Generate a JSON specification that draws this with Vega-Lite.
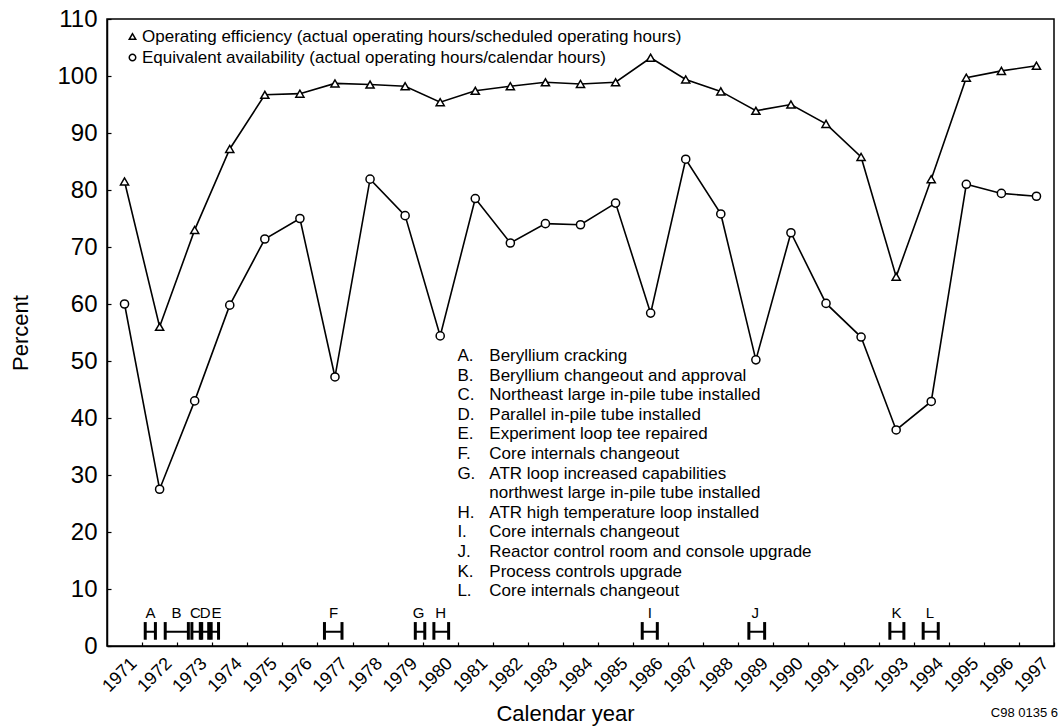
{
  "$schema": "https://vega.github.io/schema/vega-lite/v6.json",
  "width": 947,
  "height": 627,
  "autosize": "none",
  "padding": {"left": 107, "top": 19, "right": 4, "bottom": 81},
  "background": "white",
  "config": {
    "font": "Liberation Sans",
    "view": {"stroke": "black", "strokeWidth": 1.5},
    "axis": {"grid": false, "domainColor": "black", "domainWidth": 1.5, "tickColor": "black", "tickWidth": 1.2, "labelColor": "black", "titleColor": "black", "titleFontWeight": "normal", "tickSize": -4},
    "axisX": {"labelAngle": -45, "labelAlign": "right", "labelBaseline": "bottom", "labelFontSize": 18, "labelPadding": 25, "labelOffset": -2, "labelFlush": false, "labelBound": false, "titleFontSize": 22, "titlePadding": 8},
    "axisY": {"labelFontSize": 24, "labelPadding": 14, "titleFontSize": 22, "titlePadding": 24}
  },
  "datasets": {
    "series": [
      {"year": 1971, "series": "Operating efficiency (actual operating hours/scheduled operating hours)", "value": 81.5},
      {"year": 1972, "series": "Operating efficiency (actual operating hours/scheduled operating hours)", "value": 56.0},
      {"year": 1973, "series": "Operating efficiency (actual operating hours/scheduled operating hours)", "value": 73.0},
      {"year": 1974, "series": "Operating efficiency (actual operating hours/scheduled operating hours)", "value": 87.2},
      {"year": 1975, "series": "Operating efficiency (actual operating hours/scheduled operating hours)", "value": 96.7},
      {"year": 1976, "series": "Operating efficiency (actual operating hours/scheduled operating hours)", "value": 96.9},
      {"year": 1977, "series": "Operating efficiency (actual operating hours/scheduled operating hours)", "value": 98.7},
      {"year": 1978, "series": "Operating efficiency (actual operating hours/scheduled operating hours)", "value": 98.5},
      {"year": 1979, "series": "Operating efficiency (actual operating hours/scheduled operating hours)", "value": 98.2},
      {"year": 1980, "series": "Operating efficiency (actual operating hours/scheduled operating hours)", "value": 95.4},
      {"year": 1981, "series": "Operating efficiency (actual operating hours/scheduled operating hours)", "value": 97.4},
      {"year": 1982, "series": "Operating efficiency (actual operating hours/scheduled operating hours)", "value": 98.2},
      {"year": 1983, "series": "Operating efficiency (actual operating hours/scheduled operating hours)", "value": 98.9},
      {"year": 1984, "series": "Operating efficiency (actual operating hours/scheduled operating hours)", "value": 98.6},
      {"year": 1985, "series": "Operating efficiency (actual operating hours/scheduled operating hours)", "value": 98.9},
      {"year": 1986, "series": "Operating efficiency (actual operating hours/scheduled operating hours)", "value": 103.2},
      {"year": 1987, "series": "Operating efficiency (actual operating hours/scheduled operating hours)", "value": 99.4},
      {"year": 1988, "series": "Operating efficiency (actual operating hours/scheduled operating hours)", "value": 97.3},
      {"year": 1989, "series": "Operating efficiency (actual operating hours/scheduled operating hours)", "value": 93.9},
      {"year": 1990, "series": "Operating efficiency (actual operating hours/scheduled operating hours)", "value": 95.0},
      {"year": 1991, "series": "Operating efficiency (actual operating hours/scheduled operating hours)", "value": 91.6},
      {"year": 1992, "series": "Operating efficiency (actual operating hours/scheduled operating hours)", "value": 85.8},
      {"year": 1993, "series": "Operating efficiency (actual operating hours/scheduled operating hours)", "value": 64.8},
      {"year": 1994, "series": "Operating efficiency (actual operating hours/scheduled operating hours)", "value": 81.9},
      {"year": 1995, "series": "Operating efficiency (actual operating hours/scheduled operating hours)", "value": 99.7},
      {"year": 1996, "series": "Operating efficiency (actual operating hours/scheduled operating hours)", "value": 100.9},
      {"year": 1997, "series": "Operating efficiency (actual operating hours/scheduled operating hours)", "value": 101.8},
      {"year": 1971, "series": "Equivalent availability (actual operating hours/calendar hours)", "value": 60.0},
      {"year": 1972, "series": "Equivalent availability (actual operating hours/calendar hours)", "value": 27.5},
      {"year": 1973, "series": "Equivalent availability (actual operating hours/calendar hours)", "value": 43.0},
      {"year": 1974, "series": "Equivalent availability (actual operating hours/calendar hours)", "value": 59.8},
      {"year": 1975, "series": "Equivalent availability (actual operating hours/calendar hours)", "value": 71.4},
      {"year": 1976, "series": "Equivalent availability (actual operating hours/calendar hours)", "value": 75.0},
      {"year": 1977, "series": "Equivalent availability (actual operating hours/calendar hours)", "value": 47.2},
      {"year": 1978, "series": "Equivalent availability (actual operating hours/calendar hours)", "value": 81.9},
      {"year": 1979, "series": "Equivalent availability (actual operating hours/calendar hours)", "value": 75.5},
      {"year": 1980, "series": "Equivalent availability (actual operating hours/calendar hours)", "value": 54.4},
      {"year": 1981, "series": "Equivalent availability (actual operating hours/calendar hours)", "value": 78.5},
      {"year": 1982, "series": "Equivalent availability (actual operating hours/calendar hours)", "value": 70.7},
      {"year": 1983, "series": "Equivalent availability (actual operating hours/calendar hours)", "value": 74.1},
      {"year": 1984, "series": "Equivalent availability (actual operating hours/calendar hours)", "value": 73.9},
      {"year": 1985, "series": "Equivalent availability (actual operating hours/calendar hours)", "value": 77.7},
      {"year": 1986, "series": "Equivalent availability (actual operating hours/calendar hours)", "value": 58.4},
      {"year": 1987, "series": "Equivalent availability (actual operating hours/calendar hours)", "value": 85.4},
      {"year": 1988, "series": "Equivalent availability (actual operating hours/calendar hours)", "value": 75.8},
      {"year": 1989, "series": "Equivalent availability (actual operating hours/calendar hours)", "value": 50.2},
      {"year": 1990, "series": "Equivalent availability (actual operating hours/calendar hours)", "value": 72.5},
      {"year": 1991, "series": "Equivalent availability (actual operating hours/calendar hours)", "value": 60.1},
      {"year": 1992, "series": "Equivalent availability (actual operating hours/calendar hours)", "value": 54.2},
      {"year": 1993, "series": "Equivalent availability (actual operating hours/calendar hours)", "value": 37.9},
      {"year": 1994, "series": "Equivalent availability (actual operating hours/calendar hours)", "value": 42.9},
      {"year": 1995, "series": "Equivalent availability (actual operating hours/calendar hours)", "value": 81.0},
      {"year": 1996, "series": "Equivalent availability (actual operating hours/calendar hours)", "value": 79.4},
      {"year": 1997, "series": "Equivalent availability (actual operating hours/calendar hours)", "value": 78.9}
    ],
    "events": [
      {"code": "A", "start": 1971.59, "end": 1971.88, "labelYear": 1971.74},
      {"code": "B", "start": 1972.16, "end": 1972.82, "labelYear": 1972.48},
      {"code": "C", "start": 1972.92, "end": 1973.16, "labelYear": 1973.02},
      {"code": "D", "start": 1973.20, "end": 1973.40, "labelYear": 1973.30},
      {"code": "E", "start": 1973.47, "end": 1973.68, "labelYear": 1973.62},
      {"code": "F", "start": 1976.70, "end": 1977.20, "labelYear": 1976.96},
      {"code": "G", "start": 1979.29, "end": 1979.56, "labelYear": 1979.38},
      {"code": "H", "start": 1979.82, "end": 1980.24, "labelYear": 1980.01},
      {"code": "I", "start": 1985.76, "end": 1986.19, "labelYear": 1985.98},
      {"code": "J", "start": 1988.80, "end": 1989.25, "labelYear": 1988.98},
      {"code": "K", "start": 1992.82, "end": 1993.22, "labelYear": 1993.01},
      {"code": "L", "start": 1993.77, "end": 1994.20, "labelYear": 1993.96}
    ]
  },
  "layer": [
    {
      "data": {"name": "series"},
      "mark": {"type": "line", "color": "black", "strokeWidth": 1.6},
      "encoding": {
        "x": {"field": "year", "type": "quantitative", "scale": {"domain": [1970.5, 1997.5], "nice": false, "zero": false},
          "axis": {"title": "Calendar year", "values": [1971.5, 1972.5, 1973.5, 1974.5, 1975.5, 1976.5, 1977.5, 1978.5, 1979.5, 1980.5, 1981.5, 1982.5, 1983.5, 1984.5, 1985.5, 1986.5, 1987.5, 1988.5, 1989.5, 1990.5, 1991.5, 1992.5, 1993.5, 1994.5, 1995.5, 1996.5, 1997.5],
            "tickCount": 60, "labelExpr": "format(floor(datum.value), 'd')", "labelOverlap": false, "titleX": 458, "titleAlign": "center"}},
        "y": {"field": "value", "type": "quantitative", "scale": {"domain": [0, 110], "nice": false},
          "axis": {"title": "Percent", "values": [0, 10, 20, 30, 40, 50, 60, 70, 80, 90, 100, 110], "tickCount": 30, "labelOverlap": false}},
        "detail": {"field": "series", "type": "nominal"}
      }
    },
    {
      "data": {"name": "series"},
      "mark": {"type": "point", "filled": true, "fill": "white", "stroke": "black", "strokeWidth": 1.5, "size": 66, "opacity": 1},
      "encoding": {
        "x": {"field": "year", "type": "quantitative", "axis": {"labelOverlap": false}},
        "y": {"field": "value", "type": "quantitative", "axis": {"labelOverlap": false}},
        "shape": {"field": "series", "type": "nominal",
          "scale": {"domain": ["Operating efficiency (actual operating hours/scheduled operating hours)", "Equivalent availability (actual operating hours/calendar hours)"], "range": ["triangle-up", "circle"]},
          "legend": {"title": null, "orient": "none", "legendX": 17, "legendY": 9, "labelFontSize": 17, "labelColor": "black", "labelLimit": 1000, "labelOffset": 1, "rowPadding": 3, "symbolSize": 42, "padding": 0,
            "encode": {"symbols": {"update": {"stroke": {"value": "black"}, "fill": {"value": "white"}, "strokeWidth": {"value": 2}, "opacity": {"value": 1}}}}}}
      }
    },
    {
      "data": {"name": "events"},
      "mark": {"type": "rule", "color": "black", "strokeWidth": 2},
      "encoding": {
        "x": {"field": "start", "type": "quantitative", "axis": {"labelOverlap": false}},
        "x2": {"field": "end"},
        "y": {"datum": 2.5, "type": "quantitative", "axis": {"labelOverlap": false}}
      }
    },
    {
      "data": {"name": "events"},
      "mark": {"type": "rule", "color": "black", "strokeWidth": 3},
      "encoding": {
        "x": {"field": "start", "type": "quantitative", "axis": {"labelOverlap": false}},
        "y": {"datum": 1.1, "type": "quantitative", "axis": {"labelOverlap": false}},
        "y2": {"datum": 4.2}
      }
    },
    {
      "data": {"name": "events"},
      "mark": {"type": "rule", "color": "black", "strokeWidth": 3},
      "encoding": {
        "x": {"field": "end", "type": "quantitative", "axis": {"labelOverlap": false}},
        "y": {"datum": 1.1, "type": "quantitative", "axis": {"labelOverlap": false}},
        "y2": {"datum": 4.2}
      }
    },
    {
      "data": {"name": "events"},
      "mark": {"type": "text", "fontSize": 15, "color": "black", "align": "center", "baseline": "alphabetic"},
      "encoding": {
        "x": {"field": "labelYear", "type": "quantitative", "axis": {"labelOverlap": false}},
        "y": {"datum": 5.0, "type": "quantitative", "axis": {"labelOverlap": false}},
        "text": {"field": "code", "type": "nominal"}
      }
    },
    {
      "data": {"values": [{}]},
      "mark": {"type": "text", "fontSize": 17, "color": "black", "align": "left", "baseline": "alphabetic", "lineHeight": 19.6,
        "text": ["A.", "B.", "C.", "D.", "E.", "F.", "G."]},
      "encoding": {
        "x": {"datum": 1980.49, "type": "quantitative", "axis": {"labelOverlap": false}},
        "y": {"datum": 50.0, "type": "quantitative", "axis": {"labelOverlap": false}}
      }
    },
    {
      "data": {"values": [{}]},
      "mark": {"type": "text", "fontSize": 17, "color": "black", "align": "left", "baseline": "alphabetic", "lineHeight": 19.6, "dy": 156.8,
        "text": ["H.", "I.", "J.", "K.", "L."]},
      "encoding": {
        "x": {"datum": 1980.49, "type": "quantitative", "axis": {"labelOverlap": false}},
        "y": {"datum": 50.0, "type": "quantitative", "axis": {"labelOverlap": false}}
      }
    },
    {
      "data": {"values": [{}]},
      "mark": {"type": "text", "fontSize": 17, "color": "black", "align": "left", "baseline": "alphabetic", "lineHeight": 19.6,
        "text": ["Beryllium cracking", "Beryllium changeout and approval", "Northeast large in-pile tube installed", "Parallel in-pile tube installed", "Experiment loop tee repaired", "Core internals changeout", "ATR loop increased capabilities", "northwest large in-pile tube installed", "ATR high temperature loop installed", "Core internals changeout", "Reactor control room and console upgrade", "Process controls upgrade", "Core internals changeout"]},
      "encoding": {
        "x": {"datum": 1981.40, "type": "quantitative", "axis": {"labelOverlap": false}},
        "y": {"datum": 50.0, "type": "quantitative", "axis": {"labelOverlap": false}}
      }
    },
    {
      "data": {"values": [{}]},
      "mark": {"type": "text", "fontSize": 13, "color": "black", "align": "right", "baseline": "alphabetic", "dx": 4, "text": "C98 0135 6"},
      "encoding": {
        "x": {"datum": 1997.5, "type": "quantitative", "axis": {"labelOverlap": false}},
        "y": {"datum": -12.4, "type": "quantitative", "axis": {"labelOverlap": false}}
      }
    }
  ]
}
